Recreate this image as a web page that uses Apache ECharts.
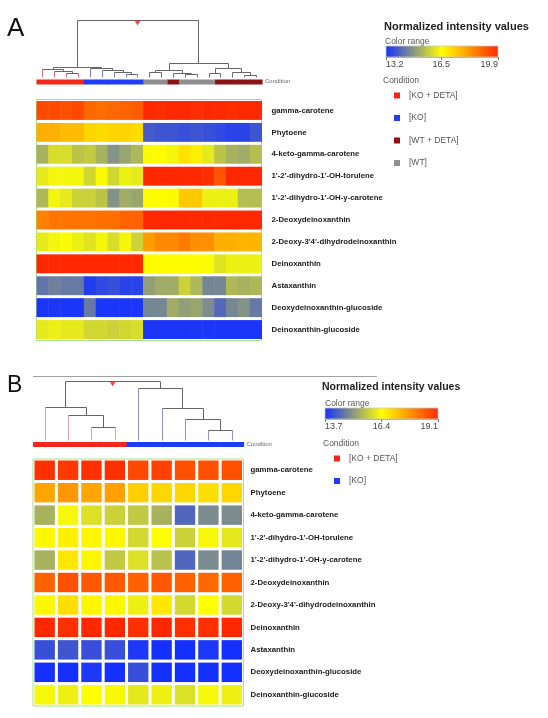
<!DOCTYPE html>
<html><head><meta charset="utf-8">
<script src="https://cdn.jsdelivr.net/npm/echarts@6/dist/echarts.min.js"></script>
<style>html,body{margin:0;padding:0;background:#fff}#c{width:548px;height:718px}</style>
</head><body><div id="c"></div>
<script>
// ---------------- DATA ----------------
const metabolites = ['gamma-carotene','Phytoene','4-keto-gamma-carotene',"1'-2'-dihydro-1'-OH-torulene","1'-2'-dihydro-1'-OH-y-carotene",'2-Deoxydeinoxanthin',"2-Deoxy-3'4'-dihydrodeinoxanthin",'Deinoxanthin','Astaxanthin','Deoxydeinoxanthin-glucoside','Deinoxanthin-glucoside'];
const conditionNames = ['[KO + DETA]','[KO]','[WT + DETA]','[WT]'];
const conditionColors = ['#f3281b','#1e3cfb','#8a1212','#8e8e8e'];
const leafLineColors = ['#e07070','#7080e8','#707070','#707070'];
const leafLineColorsB = ['#e8a0a8','#8e90e0','#707070','#707070'];

// Panel A: 19 samples (leaf order of dendrogram), condition index per sample
const samplesA = ['a1','a2','a3','a4','a5','a6','a7','a8','a9','a10','a11','a12','a13','a14','a15','a16','a17','a18','a19'];
const conditionA = [0,0,0,0,1,1,1,1,1,3,3,2,3,3,3,2,2,2,2];
const heatA = [
  [19.4,19.4,19.3,19.4,18.9,18.8,18.9,19.0,19.1,19.9,19.8,19.9,19.9,19.8,19.9,19.9,19.8,19.9,19.9],
  [17.8,17.8,17.6,17.6,17.2,17.1,17.2,17.2,17.1,13.9,13.8,13.8,13.7,13.8,13.7,13.6,13.5,13.5,13.8],
  [15.3,16.0,16.0,15.6,15.7,15.3,14.8,15.1,15.4,16.5,16.6,16.4,17.0,16.8,16.2,15.6,15.3,15.2,15.5],
  [16.2,16.4,16.4,16.4,15.9,16.5,15.9,16.3,16.2,19.9,19.9,19.9,19.9,19.9,19.8,19.2,19.9,19.9,19.9],
  [15.4,16.4,16.2,15.8,15.8,15.6,14.8,15.2,15.1,16.6,16.6,16.5,17.4,17.4,16.3,16.3,16.3,15.5,15.5],
  [18.5,18.7,18.7,18.7,18.7,18.8,18.8,19.0,19.0,19.9,19.9,19.9,19.9,19.9,19.9,19.9,19.9,19.9,19.9],
  [16.2,16.4,16.5,16.3,16.1,16.4,16.0,16.4,15.8,18.1,18.4,18.4,18.6,18.3,18.3,17.8,17.8,17.7,17.7],
  [19.9,19.9,19.9,19.9,19.9,19.9,19.9,19.9,19.9,16.6,16.6,16.6,16.6,16.6,16.5,16.1,16.3,16.3,16.3],
  [14.3,14.5,14.4,14.4,13.4,13.6,13.7,13.5,13.5,15.0,15.2,15.2,15.8,15.4,14.6,14.6,15.4,15.3,15.4],
  [13.3,13.3,13.3,13.3,14.4,13.3,13.3,13.3,13.3,14.6,14.6,15.2,15.0,15.1,14.7,14.1,14.6,14.8,14.4],
  [16.2,16.3,16.2,16.2,15.9,15.9,15.8,15.9,16.0,13.3,13.3,13.3,13.3,13.3,13.3,13.3,13.3,13.3,13.3]
];
// merges: [childA, childB, height]; nodes >= n are earlier merges (n + k)
const mergesA = [[2,3,4],[1,19,6],[0,20,8],[7,8,3],[6,22,5],[5,23,7],[4,24,9],[21,25,10.5],
  [9,10,5],[12,13,3],[11,28,4.5],[27,29,7],[14,15,4],[17,18,2],[16,32,5],[31,33,9],[30,34,14.5],[26,35,57]];
const rangeA = [13.2, 19.9];
const ticksA = [13.2, 16.5, 19.9];

// Panel B: 9 samples
const samplesB = ['b1','b2','b3','b4','b5','b6','b7','b8','b9'];
const conditionB = [0,0,0,0,1,1,1,1,1];
const heatB = [
  [19.0,18.9,19.0,19.0,18.7,18.8,18.6,18.6,18.6],
  [17.5,17.7,17.5,17.6,17.0,16.9,16.9,16.8,16.9],
  [15.4,16.3,16.0,15.8,15.7,15.4,14.4,14.9,14.9],
  [16.5,16.6,16.5,16.5,15.9,16.4,15.8,16.3,16.1],
  [15.4,16.7,16.5,15.7,16.0,15.6,14.4,14.9,14.8],
  [18.4,18.6,18.5,18.5,18.4,18.5,18.4,18.3,18.4],
  [16.5,16.8,16.5,16.5,16.2,16.7,15.9,16.4,15.9],
  [19.1,19.0,19.1,19.1,19.0,19.1,19.0,19.0,19.1],
  [14.1,14.2,14.1,14.1,13.8,13.7,13.7,13.8,13.7],
  [13.7,13.7,13.8,13.7,14.1,13.7,13.7,13.7,13.7],
  [16.3,16.2,16.4,16.3,16.1,16.2,16.0,16.3,16.2]
];
const mergesB = [[2,3,13],[1,9,25],[0,10,33],[7,8,10],[6,12,21],[5,13,32],[4,14,52],[11,15,59]];
const rangeB = [13.7, 19.1];
const ticksB = [13.7, 16.4, 19.1];

const palette = ['#1430ff','#ffff00','#ff2800'];

// ---------------- BUILD ----------------
const FONT = 'Liberation Sans, Arial, sans-serif';
const GRAY = '#666666';
const grid=[], xAxis=[], yAxis=[], series=[], visualMap=[], legend=[];

function addGrid(g){ grid.push(Object.assign({containLabel:false, show:false}, g)); return grid.length-1; }

function buildDendro(merges, n, conds, leafCols){
  const pos=[], hgt=[], segs=[];
  for(let i=0;i<n;i++){pos[i]=i;hgt[i]=0;}
  merges.forEach((m,k)=>{
    const a=m[0], b=m[1], h=m[2], id=n+k;
    [a,b].forEach(c=>segs.push([pos[c],hgt[c],pos[c],h, c<n?leafCols[conds[c]]:GRAY]));
    segs.push([pos[a],h,pos[b],h,GRAY]);
    pos[id]=(pos[a]+pos[b])/2; hgt[id]=h;
  });
  const r=n+merges.length-1;
  return {segs, root:[pos[r],hgt[r]]};
}

function panel(p){
  const n=p.samples.length;
  // dendrogram
  const gD=addGrid(p.dendroBox);
  xAxis.push({gridIndex:gD,type:'value',min:-0.5,max:n-0.5,show:false});
  yAxis.push({gridIndex:gD,type:'value',min:0,max:p.dendroMax,show:false});
  const d=buildDendro(p.merges,n,p.conds,p.leafCols);
  series.push({type:'custom',name:'dendro'+p.id,xAxisIndex:gD,yAxisIndex:gD,silent:true,
    data:d.segs.map(s=>[s[0],s[1],s[2],s[3]]),encode:{x:[0,2],y:[1,3]},
    renderItem:(params,api)=>{const s=d.segs[params.dataIndex];const a=api.coord([s[0],s[1]]),b=api.coord([s[2],s[3]]);
      return {type:'line',shape:{x1:Math.round(a[0])+0.5,y1:Math.round(a[1])+0.5,x2:Math.round(b[0])+0.5,y2:Math.round(b[1])+0.5},style:{stroke:s[4],lineWidth:1}};}});
  series.push({type:'scatter',name:'root'+p.id,xAxisIndex:gD,yAxisIndex:gD,silent:true,data:[d.root],
    symbol:'path://M0,0 L10,0 L5,8 Z',symbolSize:[6,5],symbolOffset:[0,3],itemStyle:{color:'#e8201a'}});
  // condition bar
  const gC=addGrid(p.condBox);
  xAxis.push({gridIndex:gC,type:'value',min:-0.5,max:n-0.5,axisLine:{show:false},axisTick:{show:false},axisLabel:{show:false},splitLine:{show:false},
    name:'Condition',nameLocation:'end',nameGap:3,nameTextStyle:{fontSize:6,color:'#666',align:'left',verticalAlign:'bottom',fontFamily:FONT}});
  yAxis.push({gridIndex:gC,type:'value',min:0,max:1,show:false});
  conditionNames.forEach((name,ci)=>{
    const idx=[]; p.conds.forEach((c,i)=>{if(c===ci) idx.push(i);});
    if(!idx.length) return;
    series.push({type:'custom',name,xAxisIndex:gC,yAxisIndex:gC,silent:true,itemStyle:{color:conditionColors[ci]},
      data:idx.map(i=>[i,0.5]),encode:{x:0,y:1},
      renderItem:(params,api)=>{const i=api.value(0);const a=api.coord([i-0.5,1]),b=api.coord([i+0.5,0]);
        return {type:'rect',shape:{x:a[0],y:a[1],width:b[0]-a[0]+0.6,height:b[1]-a[1]},style:{fill:api.visual('color')}};}});
  });
  // heatmap
  const gH=addGrid(Object.assign({show:true,borderColor:'#a6e08c',borderWidth:1,backgroundColor:'#fff'},p.heatBox));
  xAxis.push({gridIndex:gH,type:'category',data:p.samples,show:false});
  yAxis.push({gridIndex:gH,type:'category',data:metabolites,inverse:true,position:'right',axisLine:{show:false},axisTick:{show:false},splitLine:{show:false},
    axisLabel:{fontSize:7.8,fontWeight:'bold',color:'#1a1a1a',margin:p.labelMargin,fontFamily:FONT}});
  const data=[]; p.heat.forEach((row,r)=>row.forEach((v,c)=>data.push([c,r,v])));
  const sIdx=series.length, gx=p.gap[0], gy=p.gap[1];
  series.push({type:'custom',name:'heat'+p.id,xAxisIndex:gH,yAxisIndex:gH,silent:true,data,encode:{x:0,y:1},
    renderItem:(params,api)=>{const c=api.coord([api.value(0),api.value(1)]);const sz=api.size([1,1]);
      const ext=gx===0?0.5:0;
      return {type:'rect',shape:{x:c[0]-sz[0]/2+gx/2,y:c[1]-sz[1]/2+gy/2,width:sz[0]-gx+ext,height:sz[1]-gy},style:{fill:api.visual('color')}};}});
  visualMap.push({type:'continuous',show:false,min:p.range[0],max:p.range[1],seriesIndex:sIdx,dimension:2,inRange:{color:palette}});
  // color bar
  const gB=addGrid(p.barBox);
  xAxis.push({gridIndex:gB,type:'value',min:p.range[0],max:p.range[1],position:'bottom',splitLine:{show:false},
    axisLine:{show:true,lineStyle:{color:'#aaa',width:1}},
    axisTick:{show:true,customValues:p.ticks,length:3,lineStyle:{color:'#777'}},
    axisLabel:{customValues:p.ticks,fontSize:9,color:'#444',margin:3,alignMinLabel:'left',alignMaxLabel:'right',fontFamily:FONT,formatter:v=>Number(v).toFixed(1)}});
  yAxis.push({gridIndex:gB,type:'value',min:0,max:1,show:false});
  series.push({type:'custom',name:'bar'+p.id,xAxisIndex:gB,yAxisIndex:gB,silent:true,data:[[p.range[0],0,p.range[1],1]],encode:{x:[0,2],y:[1,3]},
    renderItem:(params,api)=>{const a=api.coord([api.value(0),api.value(3)]),b=api.coord([api.value(2),api.value(1)]);
      return {type:'rect',shape:{x:a[0],y:a[1],width:b[0]-a[0],height:b[1]-a[1]},
        style:{fill:new echarts.graphic.LinearGradient(0,0,1,0,palette.map((c,i)=>({offset:i/(palette.length-1),color:c}))),stroke:'#c8c8c8',lineWidth:0.8}};}});
  // legend
  legend.push({orient:'vertical',left:p.legendPos.left,top:p.legendPos.top,itemWidth:6,itemHeight:6,itemGap:p.legendGap,icon:'rect',selectedMode:false,
    data:conditionNames.slice(0,p.legendCount),textStyle:{fontSize:8.5,color:'#555',fontFamily:FONT,padding:[0,0,0,4]}});
}

panel({id:'A',samples:samplesA,conds:conditionA,heat:heatA,merges:mergesA,range:rangeA,ticks:ticksA,leafCols:leafLineColors,
  dendroBox:{left:36.5,top:20,width:225.5,height:57},dendroMax:57,
  condBox:{left:36.5,top:79.5,width:225.5,height:5},
  heatBox:{left:36.5,top:99.5,width:225,height:241},gap:[0,3],labelMargin:10,
  barBox:{left:386,top:46,width:112,height:11},
  legendPos:{left:389,top:86},legendGap:13.5,legendCount:4});
panel({id:'B',samples:samplesB,conds:conditionB,heat:heatB,merges:mergesB,range:rangeB,ticks:ticksB,leafCols:leafLineColorsB,
  dendroBox:{left:33,top:381,width:210.5,height:59},dendroMax:59,
  condBox:{left:33,top:442,width:210.5,height:5},
  heatBox:{left:33,top:459,width:210.5,height:247},gap:[3,3],labelMargin:7,
  barBox:{left:325,top:408,width:113,height:11},
  legendPos:{left:329,top:449},legendGap:13.5,legendCount:2});

const title=[
  {text:'A',left:7,top:16,padding:0,textStyle:{fontSize:26,fontWeight:'normal',color:'#111',fontFamily:FONT}},
  {text:'B',left:7,top:374,padding:0,textStyle:{fontSize:23,fontWeight:'normal',color:'#111',fontFamily:FONT}},
  {text:'Normalized intensity values',left:384,top:21,padding:0,textStyle:{fontSize:11,fontWeight:'bold',color:'#222',fontFamily:FONT}},
  {text:'Normalized intensity values',left:322,top:382,padding:0,textStyle:{fontSize:10.5,fontWeight:'bold',color:'#222',fontFamily:FONT}},
  {text:'Color range',left:385,top:37,padding:0,textStyle:{fontSize:8.5,fontWeight:'normal',color:'#555',fontFamily:FONT}},
  {text:'Color range',left:325,top:399,padding:0,textStyle:{fontSize:8.5,fontWeight:'normal',color:'#555',fontFamily:FONT}},
  {text:'Condition',left:383,top:76,padding:0,textStyle:{fontSize:8.5,fontWeight:'normal',color:'#555',fontFamily:FONT}},
  {text:'Condition',left:323,top:439,padding:0,textStyle:{fontSize:8.5,fontWeight:'normal',color:'#555',fontFamily:FONT}}
];

const chart=echarts.init(document.getElementById('c'),null,{renderer:'canvas'});
chart.setOption({animation:false,backgroundColor:'#fff',title,grid,xAxis,yAxis,series,visualMap,legend,
  graphic:[{type:'line',shape:{x1:33,y1:376.5,x2:377,y2:376.5},style:{stroke:'#a0a0a0',lineWidth:1},silent:true}]});
</script></body></html>
